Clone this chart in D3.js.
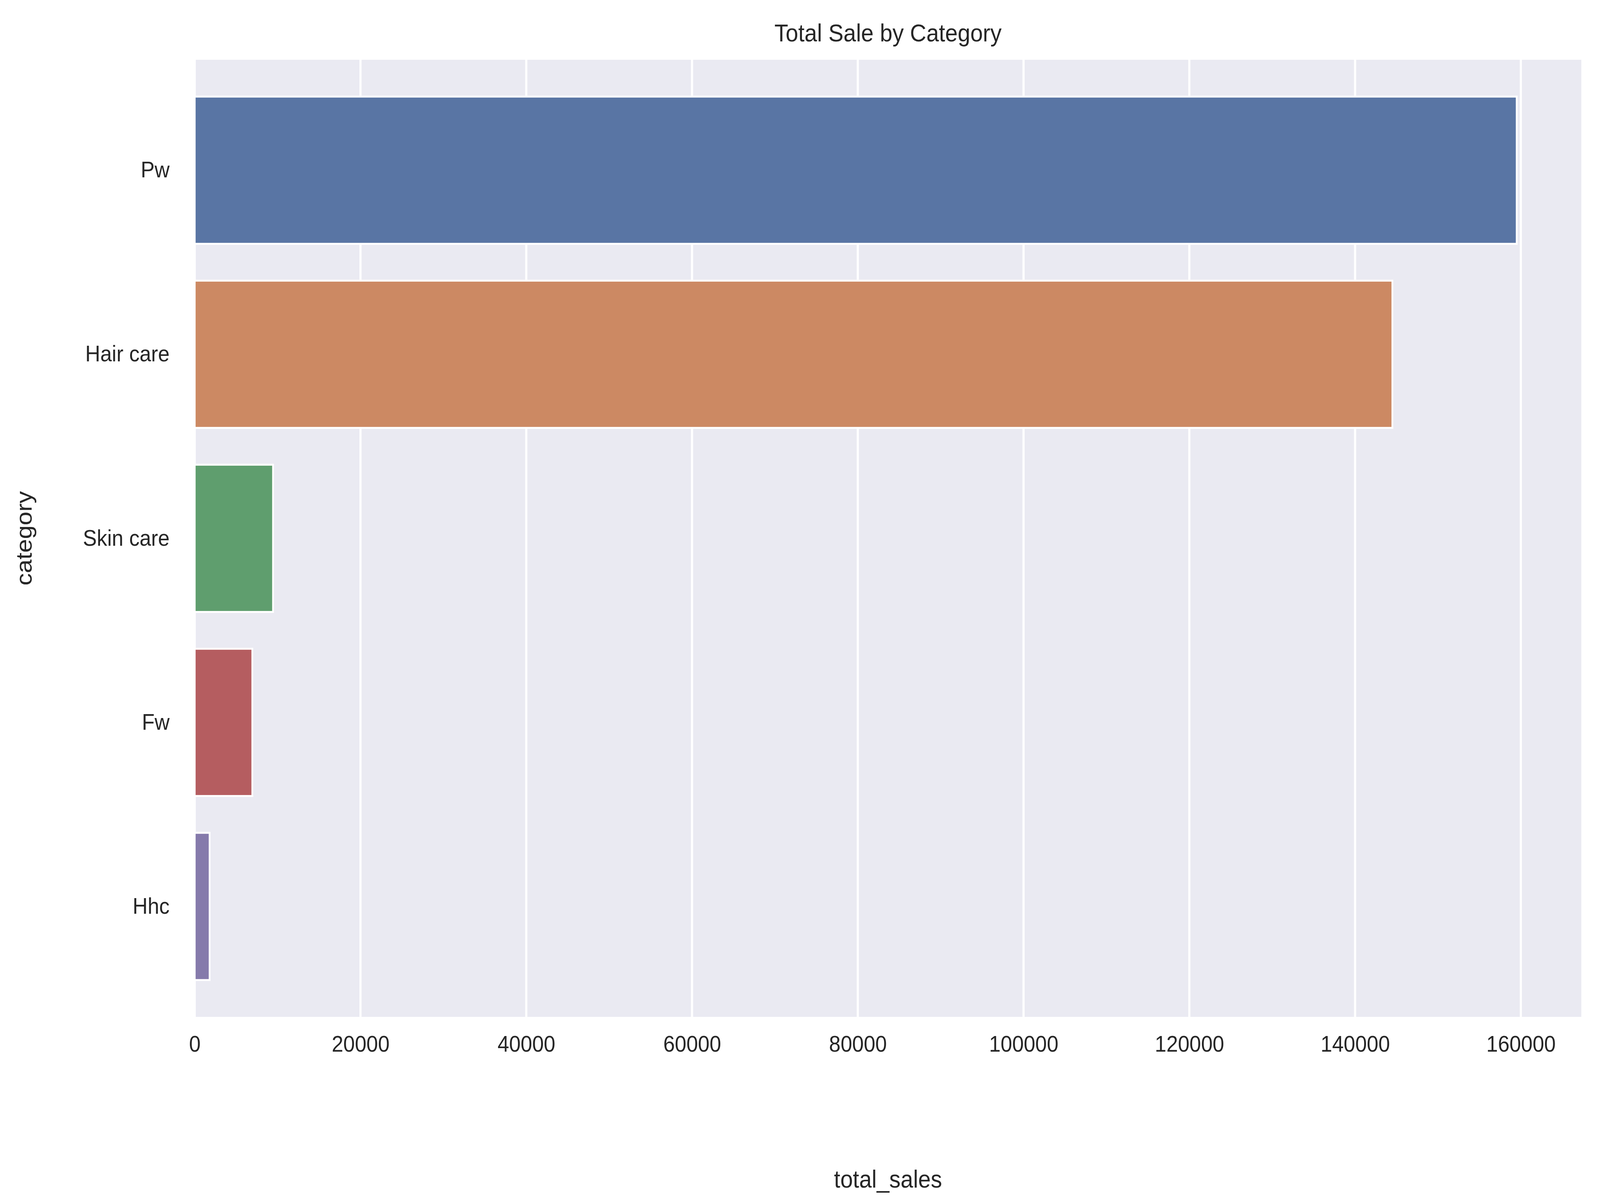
<!DOCTYPE html>
<html>
<head>
<meta charset="utf-8">
<script src="https://cdn.jsdelivr.net/npm/d3@7"></script>
<style>
  html, body { margin: 0; padding: 0; background: #fff; overflow: hidden; }
  svg { display: block; width: 100vw; height: 100vh; }
  text { font-family: "Liberation Sans", Arial, sans-serif; fill: #262626; }
</style>
</head>
<body>
<div id="chart"></div>
<script>
const categories = ['Pw', 'Hair care', 'Skin care', 'Fw', 'Hhc'];
const totalSales = [159500, 144500, 9450, 6950, 1800];
const barColors = ['#5975a4', '#cc8963', '#5f9e6e', '#b55d60', '#857aab'];
const xTicks = [0, 20000, 40000, 60000, 80000, 100000, 120000, 140000, 160000];

const W = 4462, H = 3082;
const MARGIN = {TOP: 153, RIGHT: 52, BOTTOM: 479, LEFT: 543};
const width = W - MARGIN.LEFT - MARGIN.RIGHT;
const height = H - MARGIN.TOP - MARGIN.BOTTOM;

const data = categories.map((c, i) => ({category: c, value: totalSales[i], color: barColors[i]}));

const svg = d3.select('#chart').append('svg')
    .attr('viewBox', `0 0 ${W} ${H}`)
    .attr('preserveAspectRatio', 'none');

const g = svg.append('g')
    .attr('transform', `translate(${MARGIN.LEFT}, ${MARGIN.TOP})`);

const x = d3.scaleLinear().domain([0, 167300]).range([0, width]);
const y = d3.scaleBand().domain(categories).range([0, height]).padding(0.2);

g.append('rect').attr('width', width).attr('height', height).attr('fill', '#eaeaf2');

// gridlines
g.selectAll('.grid').data(xTicks).enter().append('line')
    .attr('x1', d => x(d)).attr('x2', d => x(d))
    .attr('y1', 0).attr('y2', height)
    .attr('stroke', '#fff').attr('stroke-width', 6);

g.selectAll('.bar').data(data).enter().append('rect')
    .attr('x', 0)
    .attr('y', d => y(d.category))
    .attr('width', d => x(d.value))
    .attr('height', y.bandwidth())
    .attr('fill', d => d.color)
    .attr('stroke', '#fff').attr('stroke-width', 5);

const xAxis = g.append('g')
    .attr('transform', `translate(0, ${height})`)
    .call(d3.axisBottom(x).tickValues(xTicks).tickSize(0).tickPadding(48).tickFormat(d3.format('d')));
xAxis.select('.domain').remove();
xAxis.selectAll('text').style('font-size', '58px').attr('fill', '#262626');

const yAxis = g.append('g')
    .call(d3.axisLeft(y).tickSize(0).tickPadding(70));
yAxis.select('.domain').remove();
yAxis.selectAll('text').style('font-size', '58px').attr('fill', '#262626');

svg.append('text')
    .attr('x', MARGIN.LEFT + width / 2).attr('y', 106)
    .attr('text-anchor', 'middle').style('font-size', '63px')
    .text('Total Sale by Category');

svg.append('text')
    .attr('x', MARGIN.LEFT + width / 2).attr('y', 3040)
    .attr('text-anchor', 'middle').style('font-size', '63px')
    .text('total_sales');

svg.append('text')
    .attr('transform', `translate(88, ${MARGIN.TOP + height / 2}) rotate(-90)`)
    .attr('text-anchor', 'middle').style('font-size', '63px')
    .text('category');
</script>
</body>
</html>
